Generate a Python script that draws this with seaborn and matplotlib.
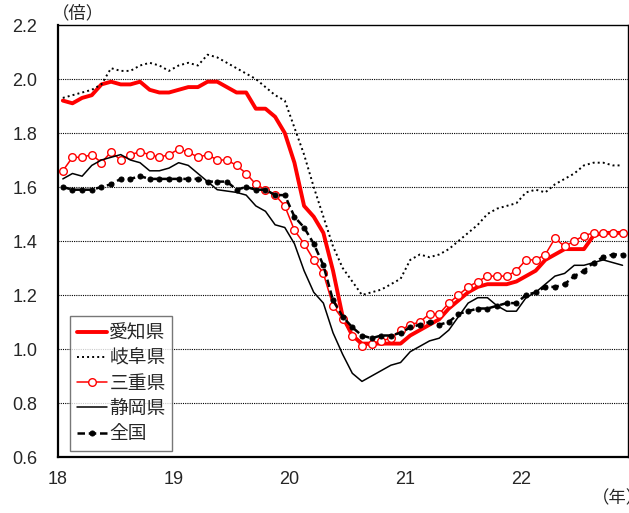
import numpy as np
import pandas as pd
import matplotlib
matplotlib.use('Agg')
import matplotlib.pyplot as plt
import matplotlib.transforms as mtransforms
import seaborn as sns

# monthly data, 2018-01 .. 2022-11
aichi = [1.92, 1.91, 1.93, 1.94, 1.98, 1.99, 1.98, 1.98, 1.99, 1.96, 1.95, 1.95,
         1.96, 1.97, 1.97, 1.99, 1.99, 1.97, 1.95, 1.95, 1.89, 1.89, 1.86, 1.80,
         1.69, 1.53, 1.49, 1.43, 1.29, 1.12, 1.05, 1.02, 1.02, 1.02, 1.02, 1.02,
         1.05, 1.07, 1.09, 1.11, 1.15, 1.18, 1.21, 1.23, 1.24, 1.24, 1.24, 1.25,
         1.27, 1.29, 1.33, 1.35, 1.37, 1.37, 1.37, 1.42, 1.43, 1.43, 1.43]
gifu = [1.93, 1.94, 1.95, 1.96, 1.98, 2.04, 2.03, 2.03, 2.05, 2.06, 2.05, 2.03,
        2.05, 2.06, 2.05, 2.09, 2.08, 2.06, 2.04, 2.02, 2.00, 1.97, 1.94, 1.92,
        1.82, 1.72, 1.60, 1.49, 1.38, 1.30, 1.25, 1.20, 1.21, 1.22, 1.24, 1.26,
        1.33, 1.35, 1.34, 1.35, 1.37, 1.40, 1.43, 1.46, 1.50, 1.52, 1.53, 1.54,
        1.58, 1.59, 1.58, 1.61, 1.63, 1.65, 1.68, 1.69, 1.69, 1.68, 1.68]
mie = [1.66, 1.71, 1.71, 1.72, 1.69, 1.73, 1.70, 1.72, 1.73, 1.72, 1.71, 1.72,
       1.74, 1.73, 1.71, 1.72, 1.70, 1.70, 1.68, 1.65, 1.61, 1.59, 1.57, 1.53,
       1.44, 1.39, 1.33, 1.28, 1.16, 1.11, 1.05, 1.01, 1.02, 1.03, 1.04, 1.07,
       1.09, 1.10, 1.13, 1.13, 1.17, 1.20, 1.23, 1.25, 1.27, 1.27, 1.27, 1.29,
       1.33, 1.33, 1.35, 1.41, 1.38, 1.40, 1.42, 1.43, 1.43, 1.43, 1.43]
shizuoka = [1.63, 1.65, 1.64, 1.68, 1.70, 1.71, 1.72, 1.70, 1.69, 1.66, 1.66, 1.67,
            1.69, 1.68, 1.65, 1.62, 1.59, 1.585, 1.58, 1.57, 1.53, 1.51, 1.46, 1.45,
            1.39, 1.29, 1.21, 1.17, 1.06, 0.98, 0.91, 0.88, 0.90, 0.92, 0.94, 0.95,
            0.99, 1.01, 1.03, 1.04, 1.07, 1.12, 1.17, 1.19, 1.19, 1.16, 1.14, 1.14,
            1.19, 1.21, 1.24, 1.27, 1.28, 1.31, 1.31, 1.32, 1.33, 1.32, 1.31]
zenkoku = [1.60, 1.59, 1.59, 1.59, 1.60, 1.61, 1.63, 1.63, 1.64, 1.63, 1.63, 1.63,
           1.63, 1.63, 1.63, 1.62, 1.62, 1.62, 1.59, 1.60, 1.59, 1.59, 1.57, 1.57,
           1.49, 1.45, 1.39, 1.31, 1.18, 1.12, 1.08, 1.05, 1.04, 1.05, 1.05, 1.06,
           1.08, 1.09, 1.10, 1.09, 1.10, 1.13, 1.14, 1.15, 1.15, 1.16, 1.17, 1.17,
           1.20, 1.21, 1.23, 1.23, 1.24, 1.27, 1.29, 1.32, 1.34, 1.35, 1.35]

names = ['愛知県', '岐阜県', '三重県', '静岡県', '全国']
year_ticks = [18, 19, 20, 21, 22]
y_ticks = [0.6, 0.8, 1.0, 1.2, 1.4, 1.6, 1.8, 2.0, 2.2]

months = np.arange(len(aichi))
xpos = 18 + (months + 0.5) / 12

df = pd.DataFrame({'x': np.tile(xpos, 5),
                   'value': aichi + gifu + mie + shizuoka + zenkoku,
                   'pref': np.repeat(names, len(aichi))})

sns.set_style('white')
plt.rcParams['font.family'] = ['Liberation Sans', 'Noto Sans CJK JP', 'DejaVu Sans']

fig = plt.figure(figsize=(6.29, 5.13), dpi=100)
ax = fig.add_axes([58 / 629, 56 / 513, 570 / 629, 432 / 513])

red = '#ff0000'
styles = {
    '愛知県': dict(color=red, lw=2.8, ls='-'),
    '岐阜県': dict(color='black', lw=1.4, ls=(0, (1, 1.6))),
    '三重県': dict(color=red, lw=1.1, ls='-', marker='o', ms=5.5,
                 mfc='white', mec=red, mew=1.0),
    '静岡県': dict(color='black', lw=1.1, ls='-'),
    '全国': dict(color='black', lw=1.8, ls=(0, (3, 1.5)), marker='o', ms=3.6,
               mfc='black', mec='black'),
}

for name in names:
    sub = df[df['pref'] == name]
    sns.lineplot(data=sub, x='x', y='value', ax=ax, label=name, **styles[name])

ax.set_xlim(18, 18 + 570 / 115.8)
ax.set_ylim(0.6, 2.2)
ax.set_yticks(y_ticks)
ax.set_yticklabels([f'{v:.1f}' for v in y_ticks], fontsize=13)
ax.set_xticks(year_ticks)
ax.set_xticklabels([str(v) for v in year_ticks], fontsize=13)
for lab in ax.get_xticklabels():
    lab.set_transform(lab.get_transform() + mtransforms.ScaledTranslation(5 / 100, 0, fig.dpi_scale_trans))
ax.tick_params(axis='x', direction='in', length=5, width=1, color='black', pad=10)
ax.tick_params(axis='y', length=0, pad=33)
for lab in ax.get_yticklabels():
    lab.set_horizontalalignment('left')

for v in y_ticks[1:-1]:
    ax.axhline(v, color='black', lw=0.8, ls=(0, (1, 1)), zorder=0)

for sp in ax.spines.values():
    sp.set_color('black')
    sp.set_linewidth(1.0)
ax.spines['left'].set_linewidth(1.6)
ax.spines['bottom'].set_linewidth(1.6)

ax.set_xlabel('')
ax.set_ylabel('')

leg = ax.legend(loc='upper left', bbox_to_anchor=((70 - 58) / 570, (457 - 316) / 432),
                frameon=True, fancybox=False, handlelength=1.6,
                handletextpad=0.15, borderpad=0.35, labelspacing=0.22, borderaxespad=0,
                prop={'family': ['Noto Sans CJK JP'], 'size': 13.5})
leg.get_frame().set_edgecolor('#555555')
leg.get_frame().set_linewidth(1.0)

fig.text(52 / 629, 1 - 13 / 513, '（倍）', fontsize=12.5, va='center', ha='left',
         family=['Noto Sans CJK JP'])
fig.text(592 / 629, 1 - 498 / 513, '（年）', fontsize=12.5, va='center', ha='left',
         family=['Noto Sans CJK JP'])

fig.savefig('out.png', dpi=100)
